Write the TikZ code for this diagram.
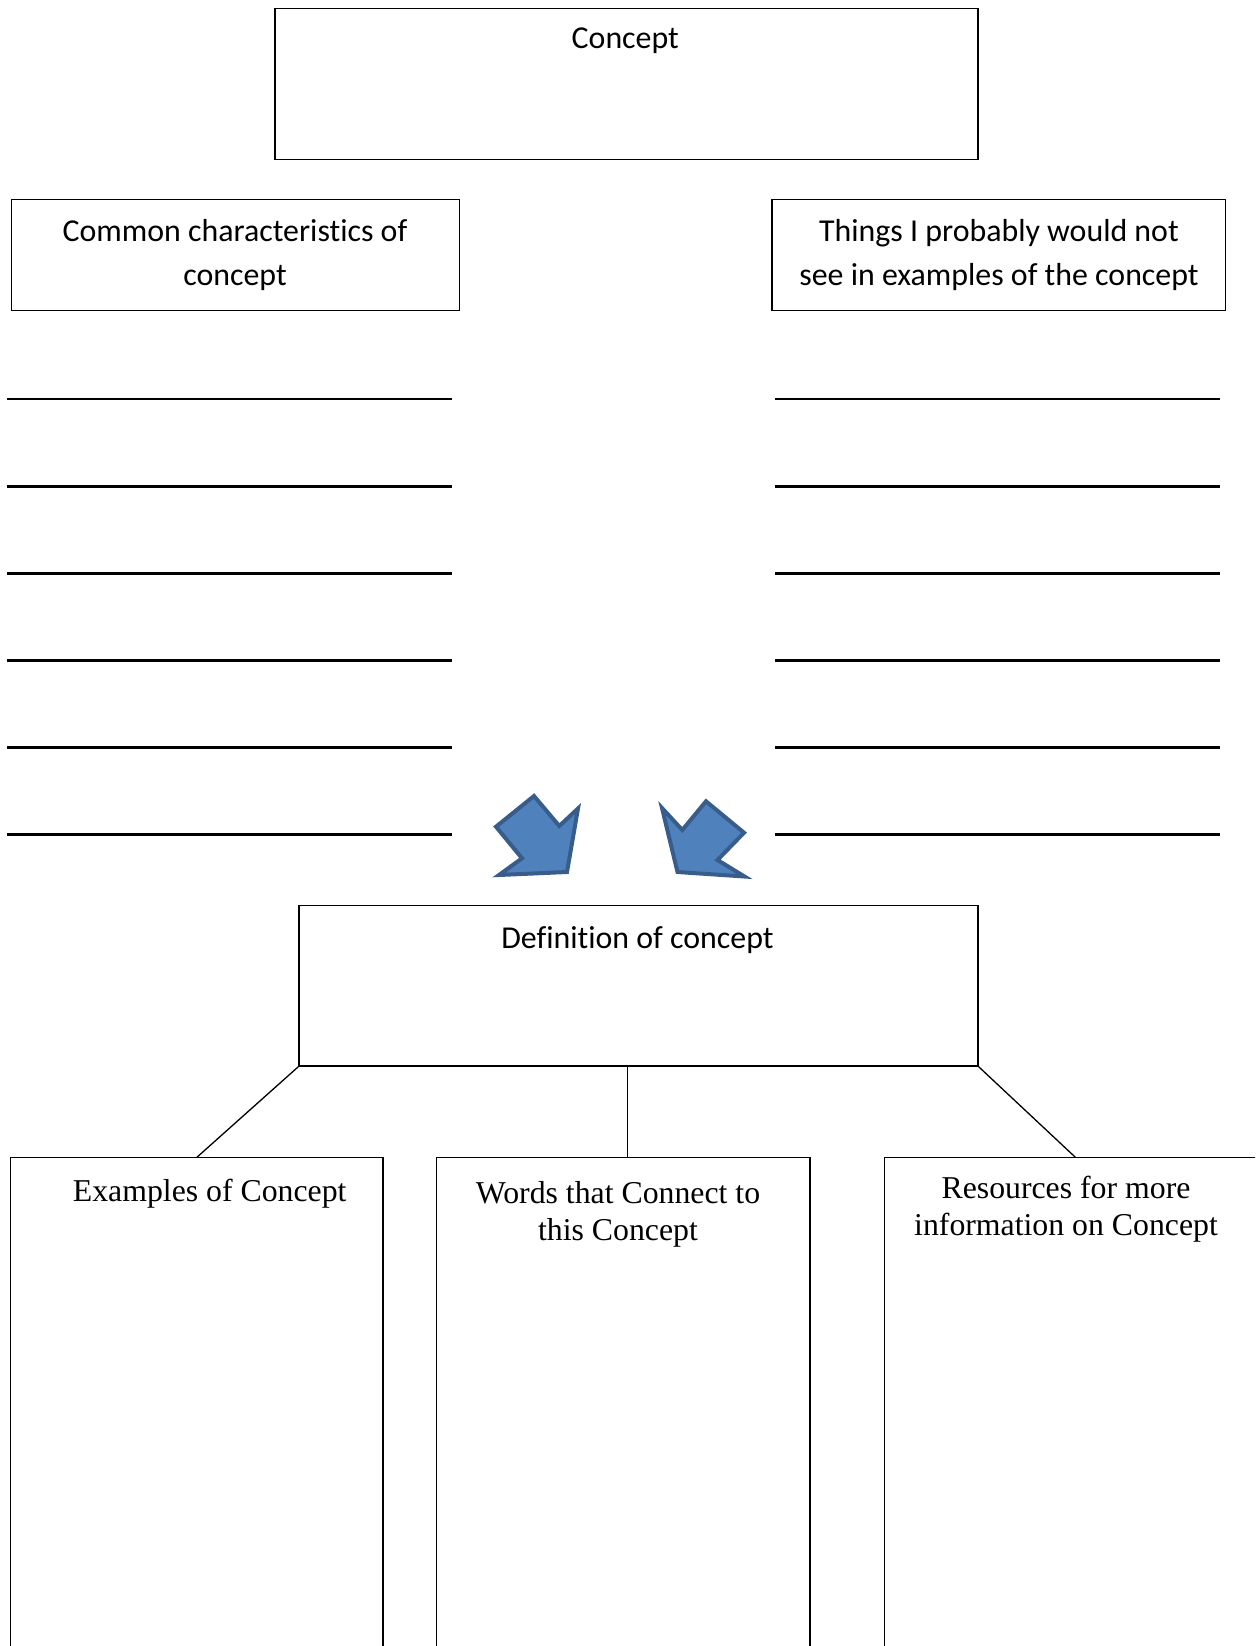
\documentclass[tikz,border=0pt]{standalone}
\usepackage{fontspec}
\setmainfont{Carlito}[Ligatures=NoCommon]
\newfontfamily\bodyserif{Liberation Serif}
\usetikzlibrary{calc}
\definecolor{arrowfill}{HTML}{4F81BD}
\definecolor{arrowedge}{HTML}{385D8A}
\begin{document}
\begin{tikzpicture}[x=1bp,y=-1bp,
  box/.style={draw, line width=1.3bp, inner sep=0pt, outer sep=0pt, anchor=north west},
  toptext/.style={font=\fontsize{32}{45}\selectfont, align=center, anchor=base, inner sep=0pt},
  bottext/.style={font=\bodyserif\fontsize{31.9}{37.5}\selectfont, align=center, anchor=base, inner sep=0pt},
  blank/.style={line width=2.8bp},
  conn/.style={line width=1.3bp},
  arrowshape/.style={fill=arrowfill, draw=arrowedge, line width=4bp, line join=miter}]
\useasboundingbox (0,0) rectangle (1255,1646);
\clip (0,0) rectangle (1255,1646);

% top boxes
\node[box, minimum width=703bp, minimum height=151bp] (concept) at (275,8.4) {};
\node[box, minimum width=448bp, minimum height=111.5bp] (common) at (11.5,199.2) {};
\node[box, minimum width=453.5bp, minimum height=111.5bp] (things) at (772,199.2) {};

\node[toptext] (tconcept) at (625.3,48.5) {Concept};
\node[toptext] (tcommon) at (235,285.9) {Common characteristics of\\concept};
\node[toptext] (tthings) at (999,285.9) {Things I probably would not\\see in examples of the concept};

% blank lines
\foreach \i in {0,...,5} {
  \draw[blank] (6.7,{399+87.1*\i}) -- (452,{399+87.1*\i});
  \draw[blank] (775.4,{399+87.1*\i}) -- (1220.3,{399+87.1*\i});
}

% arrows
\draw[arrowshape] (534,796) -- (559.3,826) -- (578,808.5) -- (567,872) -- (499,875) -- (522,858.3) -- (496,826.7) -- cycle;
\draw[arrowshape] (662,808) -- (682.3,830) -- (706,801.3) -- (744,832.7) -- (717.5,860) -- (744.5,876.5) -- (677.5,872) -- cycle;

% definition box
\node[box, minimum width=679bp, minimum height=160.6bp] (def) at (299,905.5) {};
\node[toptext] (tdef) at (637.5,948.7) {Definition of concept};

% bottom boxes
\node[box, minimum width=372.5bp, minimum height=560bp] (ex) at (10.5,1157.4) {};
\node[box, minimum width=373.5bp, minimum height=560bp] (words) at (436.5,1157.4) {};
\node[box, minimum width=420bp, minimum height=560bp] (res) at (884.6,1157.4) {};

\node[bottext] (tex) at (209.7,1201) {Examples of Concept};
\node[bottext] (twords) at (618,1240.5) {Words that Connect to\\this Concept};
\node[bottext] (tres) at (1066,1235.5) {Resources for more\\information on Concept};

% connectors
\coordinate (m1) at ($(def.south west)!0.4838!(def.south east)$);
\coordinate (r1) at ($(res.north west)+(190.9,0)$);
\draw[conn] (def.south west) -- (ex.north);
\draw[conn] (m1) -- (m1 |- words.north);
\draw[conn] (def.south east) -- (r1);
\end{tikzpicture}
\end{document}
